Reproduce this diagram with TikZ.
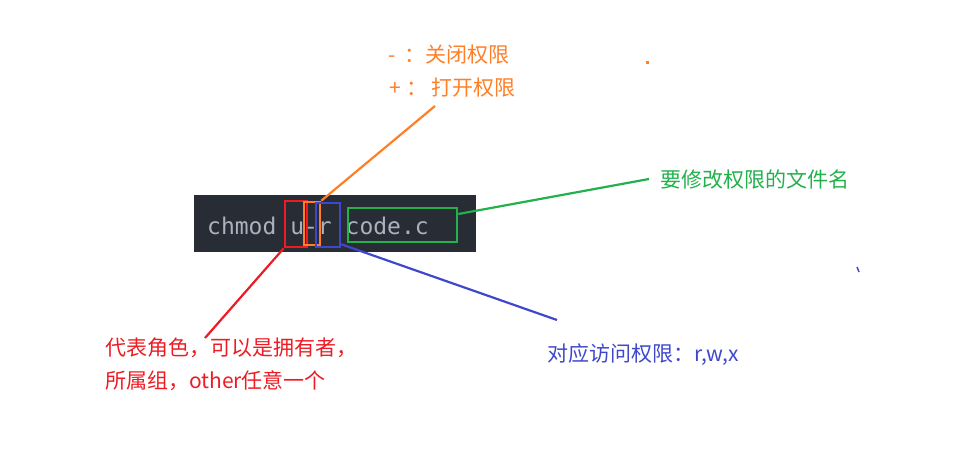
\documentclass[tikz,border=0pt]{standalone}
\usepackage{fontspec}
\usepackage{xcolor}
\usepackage{tikz}
\usetikzlibrary{positioning,calc}
\setmainfont{Noto Sans CJK SC}
\newfontfamily\codefont{DejaVu Sans Mono}
\definecolor{rolered}{RGB}{237,28,36}
\definecolor{oporange}{RGB}{255,127,39}
\definecolor{filegreen}{RGB}{34,177,76}
\definecolor{permblue}{RGB}{63,72,204}
\definecolor{codebg}{RGB}{40,44,52}
\definecolor{codefg}{RGB}{171,178,191}

\begin{document}
\begin{tikzpicture}[x=1pt,y=1pt,font=\fontsize{21pt}{33pt}\selectfont,
  mark box/.style={draw,line width=2.6pt,inner sep=0pt},
  lead/.style={line width=2.2pt},
  lbl/.style={inner sep=0pt,anchor=west,align=left}]
  \useasboundingbox (0,0) rectangle (969,-465);
  \node[fill=codebg,minimum width=282pt,minimum height=57pt,inner sep=0pt] (cmdbox) at (335,-223.5) {};
  \node[text=codefg,font=\codefont\fontsize{23pt}{23pt}\selectfont,inner sep=0pt,anchor=base west] (cmd) at (207,-234) {chmod u-r code.c};
  \node[mark box,rolered,minimum width=22pt,minimum height=46pt] (role) at (296,-224) {};
  \node[mark box,oporange,minimum width=16pt,minimum height=43pt] (op) at (312,-223.5) {};
  \node[mark box,permblue,minimum width=24pt,minimum height=44pt] (perm) at (328,-225) {};
  \node[mark box,filegreen,minimum width=109pt,minimum height=34pt] (file) at (402.5,-225) {};
  \node[lbl,text=oporange] (oplbl1) at (388,-55) {-\hspace{9pt}：关闭权限};
  \node[lbl,text=oporange] (oplbl2) at (389,-88) {+\hspace{6pt}：\hspace{4pt}打开权限};
  \node[lbl,text=filegreen] (filelbl) at (660,-179) {要修改权限的文件名};
  \node[lbl,text=permblue] (permlbl) at (547,-355) {对应访问权限：r,w,x};
  \node[lbl,text=rolered] (rolelbl) at (105,-364) {代表角色，可以是拥有者，\\所属组，other任意一个};
  \coordinate (optip) at (435,-106);
  \coordinate (roletip) at (205,-338);
  \coordinate (permtip) at (557,-320);
  \draw[lead,oporange] (op.north east) -- (optip);
  \draw[lead,filegreen] ([yshift=11pt]file.east) -- ([xshift=-11pt]filelbl.west);
  \draw[lead,rolered] (role.south west) -- (roletip);
  \draw[lead,permblue] ([yshift=4pt]perm.south east) -- (permtip);
  \fill[oporange] (645.5,-61.5) rectangle (648.5,-64.5);
  \draw[permblue,line width=1.5pt] (857,-267) -- (859,-272);
\end{tikzpicture}
\end{document}
